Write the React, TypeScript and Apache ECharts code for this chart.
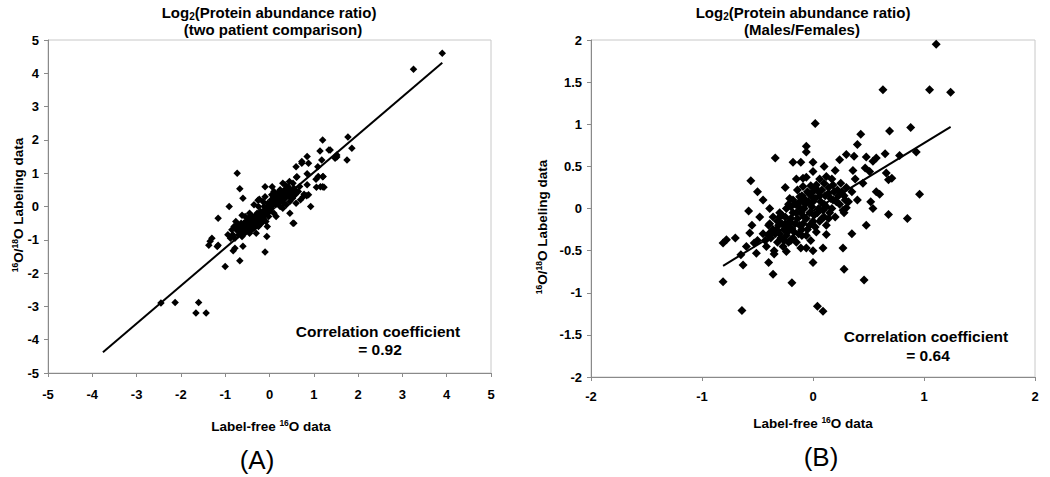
import React, { useEffect, useRef } from "react";
import * as echarts from "echarts";

const FONT = "'Liberation Sans', Arial, Helvetica, sans-serif";

// Panel A axis ranges
const rangeA = { min: -5, max: 5, interval: 1 };
// Panel B axis ranges
const rangeBx = { min: -2, max: 2, interval: 1 };
const rangeBy = { min: -2, max: 2, interval: 0.5 };

// Panel A: two patient comparison (label-free x, 16O/18O labeling y)
const pointsA: number[][] = [
  [3.9, 4.6], [3.25, 4.12],
  [-2.45, -2.9], [-2.13, -2.88], [-1.6, -2.88], [-1.66, -3.2], [-1.43, -3.2],
  [-1.0, -1.8], [-0.67, -1.63], [-0.1, -1.37], [-0.06, -0.9], [0.55, -0.5],
  [-1.34, -1.04], [-1.37, -1.16], [-1.16, -1.16], [-1.18, -1.2], [-0.94, -0.85],
  [-0.83, -0.85], [-0.78, -1.25], [-0.82, -1.33], [-0.6, -1.19],
  [-0.73, 1.0], [-0.67, 0.53], [-0.6, 0.25], [-0.91, 0.0], [-1.16, -0.35],
  [-0.62, -0.26], [-1.3, -0.95],
  [1.2, 2.0], [1.77, 2.09], [1.86, 1.75], [1.75, 1.4], [1.52, 1.49], [1.37, 1.7],
  [1.14, 1.67], [1.18, 1.4], [0.85, 1.5], [0.73, 1.3], [0.6, 1.19], [1.09, 1.19],
  [1.2, 0.89], [1.1, 0.9], [0.85, 0.98], [0.62, 0.89], [1.2, 0.59], [1.15, 0.59],
  [0.85, 0.65], [0.88, 0.35], [0.76, 0.29], [0.93, 0.0], [0.46, -0.2], [0.53, -0.5],
  [-0.1, 0.59], [0.06, 0.59], [0.3, 0.7], [0.53, 0.7], [-0.26, 0.19], [-0.28, -0.2],
  [-0.1, 0.29], [0.84, 0.32], [0.78, 0.37], [1.06, 0.58], [1.23, 0.58], [1.05, 0.82],
  [1.21, 0.9], [0.73, 1.35], [0.88, 1.3], [0.61, 0.88], [1.34, 1.7], [1.48, 1.45],
  [1.52, 1.55], [-0.23, 0.22], [-0.25, 0.0], [0.24, 0.5],
  [-0.75, -0.7], [-0.72, -0.55], [-0.7, -0.85], [-0.68, -0.75], [-0.65, -0.6],
  [-0.62, -0.9], [-0.6, -0.7], [-0.58, -0.5], [-0.56, -0.8], [-0.55, -0.62],
  [-0.53, -0.45], [-0.5, -0.72], [-0.5, -0.55], [-0.48, -0.35], [-0.46, -0.65],
  [-0.45, -0.8], [-0.43, -0.5], [-0.42, -0.6], [-0.4, -0.42], [-0.4, -0.7],
  [-0.38, -0.3], [-0.36, -0.55], [-0.35, -0.45], [-0.33, -0.62], [-0.3, -0.35],
  [-0.3, -0.5], [-0.28, -0.25], [-0.26, -0.45], [-0.25, -0.6], [-0.22, -0.3],
  [-0.2, -0.4], [-0.2, -0.15], [-0.18, -0.5], [-0.15, -0.25], [-0.14, -0.35],
  [-0.12, 0.0], [-0.1, -0.2], [-0.08, -0.45], [-0.05, -0.1], [-0.04, 0.1],
  [-0.02, -0.3], [0.0, -0.15], [0.02, 0.05], [0.04, 0.2], [0.05, -0.05],
  [0.08, 0.1], [0.1, -0.2], [0.12, 0.3], [0.14, 0.05], [0.15, 0.2], [0.18, 0.4],
  [0.2, 0.1], [0.22, 0.25], [0.24, 0.0], [0.25, 0.45], [0.28, 0.2], [0.3, 0.35],
  [0.32, 0.1], [0.34, 0.5], [0.36, 0.25], [0.38, 0.05], [0.4, 0.4], [0.42, 0.6],
  [0.44, 0.3], [0.46, 0.15], [0.5, 0.45], [0.52, 0.25], [0.55, 0.55], [0.58, 0.35],
  [0.6, 0.1], [0.65, 0.45], [0.68, 0.6], [0.7, 0.2],
  [-0.88, -0.95], [-0.85, -0.7], [-0.8, -0.6], [-0.78, -0.95], [-0.76, -0.45],
  [-0.55, -0.3], [-0.45, -0.2], [-0.35, 0.05], [-0.15, 0.15], [0.05, 0.35],
  [0.15, -0.3], [0.3, -0.05], [-0.05, -0.6], [-0.3, -0.8], [0.45, 0.75],
  [0.1, 0.45], [0.35, 0.65],
  [-0.7, -0.65], [-0.66, -0.68], [-0.64, -0.5], [-0.6, -0.58], [-0.57, -0.65],
  [-0.54, -0.7], [-0.52, -0.6], [-0.5, -0.45], [-0.47, -0.5], [-0.44, -0.58],
  [-0.41, -0.52], [-0.39, -0.62], [-0.37, -0.45], [-0.34, -0.38], [-0.32, -0.5],
  [-0.29, -0.42], [-0.27, -0.32], [-0.24, -0.38], [-0.21, -0.22], [-0.19, -0.3],
  [-0.16, -0.18], [-0.13, -0.28], [-0.11, -0.1], [-0.09, -0.22], [-0.06, -0.05],
  [-0.03, -0.15], [-0.01, 0.0], [0.01, -0.08], [0.03, 0.1], [0.06, 0.05],
  [0.09, 0.2], [0.11, 0.12], [0.13, 0.22], [0.16, 0.1], [0.19, 0.28], [0.21, 0.18],
  [0.23, 0.35], [0.26, 0.28], [0.29, 0.3], [0.31, 0.22], [0.33, 0.4], [0.37, 0.32],
  [0.39, 0.45], [0.43, 0.38], [0.47, 0.5], [0.49, 0.35], [0.53, 0.42], [0.57, 0.5],
  [-0.62, -0.78], [-0.48, -0.62], [-0.36, -0.65], [-0.2, -0.5],
];
const trendA: number[][] = [[-3.76, -4.38], [3.9, 4.32]];

// Panel B: Males/Females
const pointsB: number[][] = [
  [1.11, 1.95], [0.63, 1.41], [1.05, 1.41], [1.24, 1.38],
  [0.02, 1.01], [0.43, 0.88], [0.69, 0.92], [0.88, 0.96], [0.4, 0.76], [-0.06, 0.74],
  [-0.06, 0.67], [-0.34, 0.6], [-0.18, 0.55], [-0.11, 0.55], [0.0, 0.55], [0.1, 0.5],
  [0.3, 0.64], [0.37, 0.62], [0.48, 0.61], [0.24, 0.58], [0.54, 0.56], [0.57, 0.6],
  [0.65, 0.65], [0.78, 0.63], [0.93, 0.67], [0.36, 0.45], [0.47, 0.48], [0.51, 0.44],
  [0.66, 0.42], [0.68, 0.34], [0.71, 0.36], [0.96, 0.17], [0.6, 0.17], [0.57, 0.2],
  [0.52, 0.08], [0.54, 0.0], [0.68, -0.07], [0.85, -0.12], [0.48, -0.2], [0.46, -0.85],
  [0.28, -0.72], [0.27, -0.47], [0.0, -0.64], [0.09, -0.47], [0.12, -0.31],
  [-0.11, -0.47], [-0.06, -0.47], [-0.19, -0.88], [0.04, -1.16], [0.09, -1.22],
  [-0.64, -1.21], [-0.81, -0.87], [-0.63, -0.67], [-0.4, -0.64], [-0.36, -0.78],
  [-0.51, -0.53], [-0.35, -0.54], [-0.24, -0.51], [-0.78, -0.37], [-0.81, -0.41],
  [-0.57, -0.29], [-0.53, -0.41], [-0.39, -0.29], [-0.58, -0.03], [-0.39, 0.0],
  [-0.3, -0.1], [-0.39, -0.18], [-0.56, 0.33], [-0.09, 0.36], [-0.06, 0.37],
  [0.06, 0.35], [0.0, 0.44], [-0.09, 0.26], [-0.02, 0.27], [0.03, 0.28],
  [-0.21, 0.12], [-0.12, 0.14], [-0.01, 0.14], [0.28, -0.05], [0.3, 0.01],
  [-0.45, -0.3], [-0.42, -0.45], [-0.4, -0.2], [-0.38, -0.35], [-0.36, -0.1],
  [-0.35, -0.5], [-0.33, -0.25], [-0.32, -0.4], [-0.3, -0.05], [-0.3, -0.3],
  [-0.28, -0.18], [-0.27, -0.45], [-0.25, -0.1], [-0.24, -0.32], [-0.22, 0.05],
  [-0.22, -0.22], [-0.2, -0.38], [-0.2, -0.12], [-0.18, 0.1], [-0.17, -0.28],
  [-0.15, -0.05], [-0.15, -0.4], [-0.13, 0.02], [-0.12, -0.2], [-0.1, 0.15],
  [-0.1, -0.32], [-0.08, -0.1], [-0.07, 0.05], [-0.05, -0.25], [-0.05, 0.2],
  [-0.03, -0.05], [-0.02, -0.38], [0.0, 0.08], [0.0, -0.15], [0.02, 0.25],
  [0.03, -0.28], [0.05, 0.0], [0.06, 0.15], [0.08, -0.12], [0.1, 0.3], [0.1, 0.05],
  [0.12, -0.2], [0.14, 0.18], [0.15, -0.05], [0.17, 0.35], [0.18, 0.1], [0.2, -0.1],
  [0.22, 0.22], [0.24, 0.05], [0.25, 0.3], [0.27, -0.02], [0.28, 0.15], [0.3, 0.25],
  [0.32, 0.08], [0.35, 0.2], [0.38, 0.35], [0.4, 0.1],
  [-0.6, -0.45], [-0.55, -0.2], [-0.5, -0.38], [-0.48, -0.1], [-0.45, 0.1],
  [-0.65, -0.55], [-0.7, -0.35], [-0.5, 0.2], [0.45, 0.3], [0.2, 0.45],
  [-0.25, 0.25], [0.35, -0.3], [0.0, -0.5], [-0.15, 0.35],
  [-0.34, -0.3], [-0.31, -0.2], [-0.29, -0.35], [-0.26, -0.25], [-0.25, -0.18],
  [-0.23, -0.28], [-0.21, -0.15], [-0.19, -0.24], [-0.18, -0.05], [-0.16, -0.18],
  [-0.14, -0.12], [-0.13, -0.3], [-0.11, -0.05], [-0.09, -0.18], [-0.08, 0.0],
  [-0.06, -0.12], [-0.04, 0.08], [-0.03, -0.2], [-0.01, 0.02], [0.01, -0.08],
  [0.02, 0.12], [0.04, -0.05], [0.05, 0.2], [0.07, 0.08], [0.09, -0.02],
  [0.11, 0.15], [0.12, 0.02], [0.14, 0.25], [0.16, 0.12], [0.17, 0.0], [0.19, 0.2],
  [0.21, 0.08], [0.23, 0.15], [0.26, 0.2], [0.29, 0.1], [-0.28, -0.08], [-0.24, 0.0],
  [-0.2, 0.02], [-0.16, 0.05], [-0.12, 0.08], [-0.08, 0.12], [-0.04, 0.18], [0.0, 0.2],
  [-0.26, -0.38], [-0.22, -0.4], [-0.18, -0.35], [-0.1, -0.25], [-0.06, -0.32],
  [0.02, -0.22], [0.06, -0.15], [0.1, -0.1], [0.14, -0.12], [-0.32, -0.15],
  [-0.36, -0.25], [-0.4, -0.32], [-0.43, -0.38], [0.08, 0.22], [0.18, 0.28],
  [-0.14, 0.22], [0.12, 0.38],
];
const trendB: number[][] = [[-0.81, -0.68], [1.24, 0.97]];

const titleA = ["Log", "2", "(Protein abundance ratio)", "(two patient comparison)"];
const titleB = ["Log", "2", "(Protein abundance ratio)", "(Males/Females)"];
const corrA = ["Correlation coefficient", "= 0.92"];
const corrB = ["Correlation coefficient", "= 0.64"];

export default function App() {
  const ref = useRef<HTMLDivElement>(null);
  useEffect(() => {
    document.body.style.margin = "0";
    const chart = echarts.init(ref.current!, null, { renderer: "svg" });

    const axisLine = { show: true, onZero: false, lineStyle: { color: "#8a8a8a", width: 1 } };
    const axisTick = { show: true, inside: false, length: 4, lineStyle: { color: "#8a8a8a" } };
    const label = (margin: number) => ({
      show: true,
      color: "#000",
      fontWeight: "bold",
      fontSize: 13,
      fontFamily: FONT,
      margin,
      hideOverlap: false,
      showMinLabel: true,
      showMaxLabel: true,
    });

    const rich = {
      b: { fontSize: 15, fontWeight: "bold", fontFamily: FONT, fill: "#000", color: "#000", lineHeight: 19 },
      sub: { fontSize: 10, fontWeight: "bold", fontFamily: FONT, fill: "#000", color: "#000", lineHeight: 19, verticalAlign: "bottom" },
      n: { fontSize: 13.5, fontWeight: "bold", fontFamily: FONT, fill: "#000", color: "#000", lineHeight: 16 },
      sup: { fontSize: 8.5, fontWeight: "bold", fontFamily: FONT, fill: "#000", color: "#000", lineHeight: 16, verticalAlign: "top" },
    };

    const txt = (x: number, y: number, text: string, extra: any = {}, rot = 0) => ({
      type: "text",
      x,
      y,
      rotation: rot,
      style: {
        text,
        rich,
        fill: "#000",
        align: "center",
        verticalAlign: "middle",
        textAlign: "center",
        textVerticalAlign: "middle",
        fontFamily: FONT,
        ...extra,
      },
    });

    const plain = (x: number, y: number, text: string, size: number, weight: string) =>
      txt(x, y, text, { fontSize: size, fontWeight: weight, font: `${weight} ${size}px ${FONT}` });

    const yName = "{sup|16}{n|O/}{sup|18}{n|O Labeling data}";
    const xName = "{n|Label-free }{sup|16}{n|O data}";

    chart.setOption({
      animation: false,
      backgroundColor: "#fff",
      grid: [
        { left: 48, top: 40, width: 443, height: 333, show: true, borderColor: "#c8c8c8", borderWidth: 1, backgroundColor: "transparent" },
        { left: 591, top: 40, width: 444, height: 337, show: true, borderColor: "#c8c8c8", borderWidth: 1, backgroundColor: "transparent" },
      ],
      xAxis: [
        { type: "value", gridIndex: 0, ...rangeA, axisLine, axisTick, axisLabel: label(15), splitLine: { show: false } },
        { type: "value", gridIndex: 1, ...rangeBx, axisLine, axisTick, axisLabel: label(13), splitLine: { show: false } },
      ],
      yAxis: [
        { type: "value", gridIndex: 0, ...rangeA, axisLine, axisTick, axisLabel: label(9), splitLine: { show: false } },
        { type: "value", gridIndex: 1, ...rangeBy, axisLine, axisTick, axisLabel: label(9), splitLine: { show: false } },
      ],
      series: [
        {
          type: "scatter", xAxisIndex: 0, yAxisIndex: 0, data: pointsA,
          symbol: "diamond", symbolSize: 7.5, itemStyle: { color: "#000", opacity: 1 }, z: 3,
        },
        {
          type: "line", xAxisIndex: 0, yAxisIndex: 0, data: trendA,
          showSymbol: false, symbol: "none", lineStyle: { color: "#000", width: 2 }, z: 4,
        },
        {
          type: "scatter", xAxisIndex: 1, yAxisIndex: 1, data: pointsB,
          symbol: "diamond", symbolSize: 9, itemStyle: { color: "#000", opacity: 1 }, z: 3,
        },
        {
          type: "line", xAxisIndex: 1, yAxisIndex: 1, data: trendB,
          showSymbol: false, symbol: "none", lineStyle: { color: "#000", width: 2 }, z: 4,
        },
      ],
      graphic: [
        txt(269, 12, `{b|${titleA[0]}}{sub|${titleA[1]}}{b|${titleA[2]}}`),
        txt(273, 29, `{b|${titleA[3]}}`),
        txt(803, 12, `{b|${titleB[0]}}{sub|${titleB[1]}}{b|${titleB[2]}}`),
        txt(802, 29, `{b|${titleB[3]}}`),
        txt(18, 205, yName, {}, Math.PI / 2),
        txt(542, 227, yName, {}, Math.PI / 2),
        txt(271, 426, xName),
        txt(813, 423, xName),
        plain(378, 331, corrA[0], 15.5, "bold"),
        plain(380, 349, corrA[1], 15.5, "bold"),
        plain(926, 336, corrB[0], 15.5, "bold"),
        plain(928, 355, corrB[1], 15.5, "bold"),
        plain(257, 460, "(A)", 26, "normal"),
        plain(821, 457, "(B)", 26, "normal"),
      ],
    });
    return () => chart.dispose();
  }, []);
  return <div ref={ref} style={{ width: 1050, height: 477 }} />;
}
